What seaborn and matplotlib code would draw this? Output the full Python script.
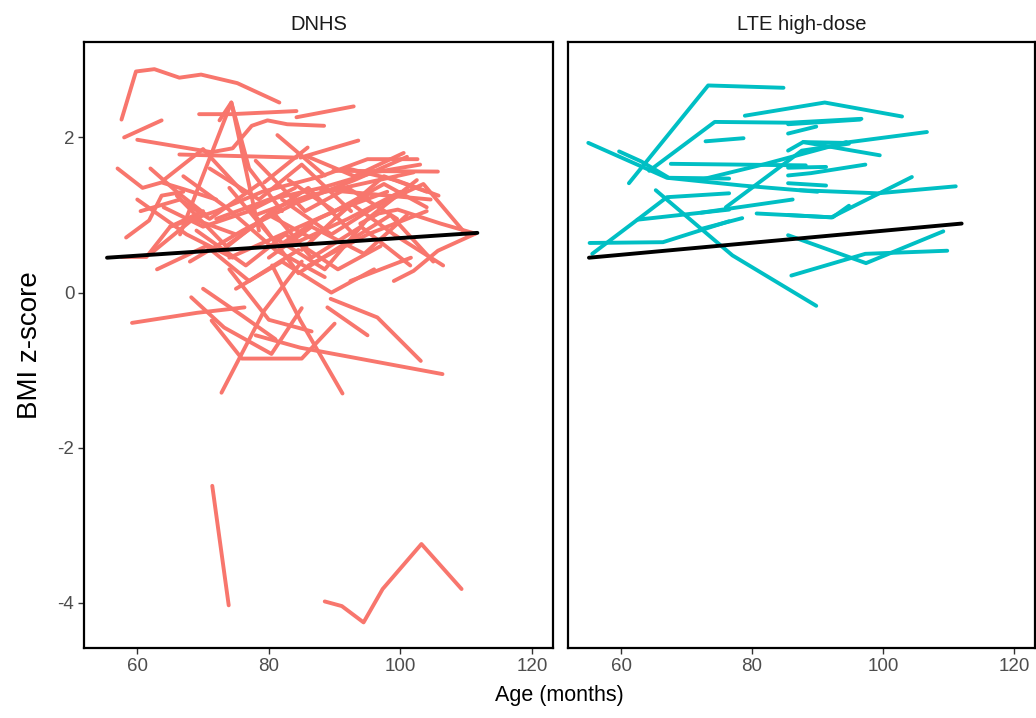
import numpy as np
import pandas as pd
import seaborn as sns
import matplotlib
matplotlib.use("Agg")
import matplotlib.pyplot as plt

# ---------------- data ----------------
panels = ["DNHS", "LTE high-dose"]
colors = {"DNHS": "#F8766D", "LTE high-dose": "#00BFC4"}

# DNHS subjects: ages (months) and BMI z-scores
dnhs_age = [
    [57.6, 59.8, 62.6, 66.4, 69.7, 75.2, 81.6],
    [58.0, 63.7],
    [60.0, 71.3, 74.5, 77.4, 79.8, 82.8, 88.4],
    [69.4, 74.3, 84.2],
    [84.2, 92.9],
    [66.5, 74.3, 78.5],
    [72.5, 74.3, 77.0, 82.0],
    [66.4, 84.2],
    [57.0, 60.8, 63.7, 67.2, 72.0],
    [81.3, 88.5],
    [79.3, 85.9],
    [84.8, 93.6],
    [88.0, 95.0, 102.6],
    [89.8, 105.7],
    [92.0, 99.3, 105.8],
    [87.9, 104.6],
    [93.9, 96.7, 99.6, 106.1, 111.4],
    [99.0, 102.0, 105.7, 111.4],
    [78.0, 84.8, 106.4],
    [89.4, 96.5, 103.1],
    [88.9, 95.0],
    [80.5, 84.8, 91.2],
    [92.4, 101.6],
    [59.2, 69.1, 76.3],
    [57.6, 61.4, 65.0, 70.0],
    [58.3, 61.8, 63.7, 67.0],
    [72.8, 79.3, 85.0],
    [68.2, 73.2, 80.4, 85.0],
    [71.3, 75.9, 85.0, 90.0],
    [71.4, 73.9],
    [88.5, 91.1, 94.4, 97.3, 103.2, 109.3],
    [60.5, 66.5, 71.0, 78.5],
    [62.0, 68.5, 75.0],
    [64.0, 70.0, 77.0, 84.0],
    [65.0, 72.0, 79.0, 88.0],
    [66.0, 73.5, 80.0, 86.5],
    [68.0, 76.0, 84.0, 93.0, 101.0],
    [72.0, 80.0, 88.0, 96.0, 103.0],
    [74.0, 82.0, 90.0, 98.0],
    [74.0, 81.5, 87.5, 95.0],
    [78.0, 86.0, 94.0, 102.0],
    [78.0, 85.5, 92.0, 99.5],
    [80.0, 86.5, 94.5, 101.0],
    [82.0, 89.5, 96.0, 103.5, 110.0],
    [60.0, 67.5, 74.5],
    [63.0, 70.5, 77.0, 84.5],
    [67.0, 73.5, 81.0, 88.5],
    [69.0, 76.5, 82.5, 90.5, 97.0],
    [71.0, 78.5, 85.0, 92.5],
    [73.0, 80.5, 86.5, 94.0, 101.5],
    [75.0, 82.0, 89.5, 96.0],
    [77.0, 84.5, 91.0, 98.5, 105.0],
    [79.0, 86.0, 93.5],
    [81.0, 88.5, 95.0, 102.5],
    [83.0, 90.0, 97.5, 104.0],
    [85.0, 92.5, 99.0, 106.5],
    [64.0, 70.0, 76.0],
    [86.0, 93.0, 100.5],
    [90.0, 97.5, 104.0],
    [62.0, 66.0, 70.5],
    [74.0, 80.0, 86.5],
    [83.0, 92.0, 100.0],
    [86.0, 95.0, 104.0],
    [70.0, 76.0, 81.0],
]
dnhs_z = [
    [2.23, 2.85, 2.88, 2.77, 2.81, 2.70, 2.45],
    [2.00, 2.22],
    [1.97, 1.81, 1.86, 2.15, 2.22, 2.17, 2.15],
    [2.30, 2.30, 2.34],
    [2.26, 2.40],
    [0.75, 2.45, 0.80],
    [2.22, 2.45, 1.60, 1.05],
    [1.78, 1.74],
    [1.60, 1.35, 1.42, 1.33, 1.20],
    [2.03, 1.51],
    [1.42, 1.87],
    [1.74, 1.96],
    [1.50, 1.72, 1.72],
    [1.57, 1.56],
    [1.60, 1.45, 1.25],
    [1.33, 1.20],
    [0.89, 1.02, 1.07, 0.89, 0.76],
    [0.15, 0.28, 0.54, 0.76],
    [-0.55, -0.71, -1.05],
    [-0.08, -0.32, -0.88],
    [-0.19, -0.55],
    [0.35, -0.36, -1.30],
    [0.15, 0.45],
    [-0.39, -0.26, -0.19],
    [0.46, 0.46, 0.85, 1.05],
    [0.71, 0.93, 1.25, 1.30],
    [-1.29, -0.23, 0.40],
    [-0.06, -0.45, -0.79, -0.20],
    [-0.36, -0.85, -0.85, -0.40],
    [-2.49, -4.03],
    [-3.98, -4.04, -4.25, -3.82, -3.24, -3.82],
    [1.05, 1.20, 0.95, 1.40],
    [0.50, 0.95, 0.75],
    [1.10, 0.85, 1.05, 1.35],
    [0.85, 1.05, 1.30, 1.50],
    [1.25, 0.60, 1.00, 0.70],
    [0.40, 0.80, 1.15, 1.45, 1.75],
    [0.95, 1.20, 1.35, 1.55, 1.65],
    [0.45, 0.75, 1.05, 1.30],
    [1.35, 0.60, 0.95, 1.25],
    [1.00, 1.25, 1.40, 1.55],
    [1.70, 1.05, 1.35, 0.95],
    [0.45, 0.85, 0.50, 1.00],
    [1.20, 0.75, 1.10, 1.40, 0.75],
    [1.20, 0.75, 0.45],
    [0.30, 0.60, 0.15, 0.55],
    [1.50, 1.10, 0.55, 0.20],
    [0.80, 0.35, 0.75, 0.30, 0.60],
    [1.60, 1.20, 1.65, 1.05],
    [0.55, 1.05, 0.45, 0.85, 0.35],
    [0.05, 0.40, 0.00, 0.30],
    [1.10, 0.25, 0.60, 1.00, 0.40],
    [0.95, 1.35, 0.70],
    [0.70, 0.30, 0.95, 1.45],
    [1.45, 1.05, 1.40, 1.10],
    [0.55, 1.15, 0.75, 0.35],
    [1.45, 1.85, 1.30],
    [1.75, 1.50, 1.80],
    [0.95, 1.50, 1.30],
    [1.60, 1.30, 1.00],
    [0.30, -0.35, -0.50],
    [0.60, 0.95, 1.30],
    [0.35, 0.75, 1.05],
    [0.05, -0.30, -0.60],
]

# LTE high-dose subjects
lte_age = [
    [61.2, 73.3, 84.8],
    [55.0, 67.0, 78.5, 90.0],
    [78.9, 91.1, 102.9],
    [64.3, 74.3, 85.7, 96.7],
    [72.9, 78.7],
    [65.3, 77.0, 89.8],
    [55.6, 62.5, 67.0, 76.5],
    [55.2, 66.4, 76.5],
    [62.5, 76.5],
    [72.2, 86.2],
    [80.7, 92.3, 94.8],
    [72.2, 78.5],
    [85.5, 97.4, 109.2],
    [86.0, 97.3, 109.8],
    [85.5, 92.1, 104.4],
    [87.3, 99.2, 111.1],
    [85.5, 91.3],
    [85.5, 89.0, 97.3],
    [85.5, 91.3],
    [85.5, 87.8, 94.0, 106.7],
    [87.8, 99.5],
    [85.5, 89.8],
    [85.5, 96.5],
    [67.6, 88.2],
    [59.7, 63.1, 67.3, 76.5],
    [71.9, 82.1, 94.4],
    [76.0, 87.6, 94.8],
]
lte_z = [
    [1.41, 2.67, 2.64],
    [1.93, 1.48, 1.38, 1.30],
    [2.28, 2.45, 2.27],
    [1.57, 2.20, 2.19, 2.24],
    [1.95, 1.99],
    [1.32, 0.48, -0.17],
    [0.50, 0.94, 1.23, 1.28],
    [0.64, 0.65, 0.92],
    [0.94, 1.07],
    [1.03, 1.20],
    [1.02, 0.97, 1.12],
    [0.82, 0.96],
    [0.74, 0.38, 0.79],
    [0.22, 0.50, 0.54],
    [1.00, 0.97, 1.49],
    [1.32, 1.28, 1.37],
    [1.41, 1.38],
    [1.51, 1.54, 1.65],
    [1.61, 1.62],
    [1.83, 1.94, 1.93, 2.07],
    [1.94, 1.77],
    [2.05, 2.14],
    [2.17, 2.23],
    [1.66, 1.64],
    [1.82, 1.69, 1.48, 1.47],
    [1.45, 1.66, 1.94],
    [1.10, 1.83, 1.92],
]

# group-level linear fit (endpoints)
fit_age = {"DNHS": [55.4, 111.7], "LTE high-dose": [55.1, 112.0]}
fit_z = {"DNHS": [0.45, 0.77], "LTE high-dose": [0.45, 0.89]}

x_ticks = [60, 80, 100, 120]
y_ticks = [-4, -2, 0, 2]

# ---------------- build long table ----------------
rows = []
for grp, ages, zs in [("DNHS", dnhs_age, dnhs_z), ("LTE high-dose", lte_age, lte_z)]:
    for i, (a, z) in enumerate(zip(ages, zs)):
        for aa, zz in zip(a, z):
            rows.append({"group": grp, "id": f"{grp}_{i}", "age": aa, "z": zz})
df = pd.DataFrame(rows)

fit_rows = []
for grp in panels:
    for aa, zz in zip(fit_age[grp], fit_z[grp]):
        fit_rows.append({"group": grp, "age": aa, "z": zz})
fit_df = pd.DataFrame(fit_rows)

# ---------------- plot ----------------
sns.set_theme(style="white")
plt.rcParams["font.family"] = ["Liberation Sans", "DejaVu Sans"]
plt.rcParams["axes.unicode_minus"] = False

W, H = 1036, 718
fig = plt.figure(figsize=(W / 100, H / 100), dpi=100)
boxes = [(84, 553), (568, 1035)]
top_px, bot_px = 42, 648
axes = []
for (l, r) in boxes:
    ax = fig.add_axes([l / W, (H - bot_px) / H, (r - l) / W, (bot_px - top_px) / H])
    axes.append(ax)

for ax, grp in zip(axes, panels):
    sub = df[df.group == grp]
    sns.lineplot(data=sub, x="age", y="z", units="id", estimator=None,
                 color=colors[grp], lw=2.8, ax=ax, sort=False, legend=False)
    fs = fit_df[fit_df.group == grp]
    sns.lineplot(data=fs, x="age", y="z", color="black", lw=2.8, ax=ax,
                 estimator=None, legend=False)
    ax.set_xlim(51.9, 123.2)
    ax.set_ylim(-4.58, 3.23)
    ax.set_xticks(x_ticks)
    ax.set_yticks(y_ticks)
    ax.set_xlabel("")
    ax.set_ylabel("")
    for s in ax.spines.values():
        s.set_visible(True)
        s.set_color("black")
        s.set_linewidth(1.6)
    ax.tick_params(axis="both", direction="out", length=4, width=1.0,
                   color="#333333", labelcolor="#4D4D4D", labelsize=13.5,
                   bottom=True, left=True, pad=3)
    ax.set_title(grp, fontsize=14.5, color="#1A1A1A", pad=9)
    ax.grid(False)

axes[0].set_yticklabels([str(t) for t in y_ticks])
axes[1].set_yticklabels([])
axes[1].tick_params(axis="y", length=0)

fig.text(559.5 / W, 1 - 695 / H, "Age (months)", ha="center", va="center",
         fontsize=15.5, color="black")
fig.text(30 / W, 1 - 345 / H, "BMI z-score", ha="center", va="center",
         fontsize=20, color="black", rotation=90)

fig.savefig("out.png", dpi=100)
